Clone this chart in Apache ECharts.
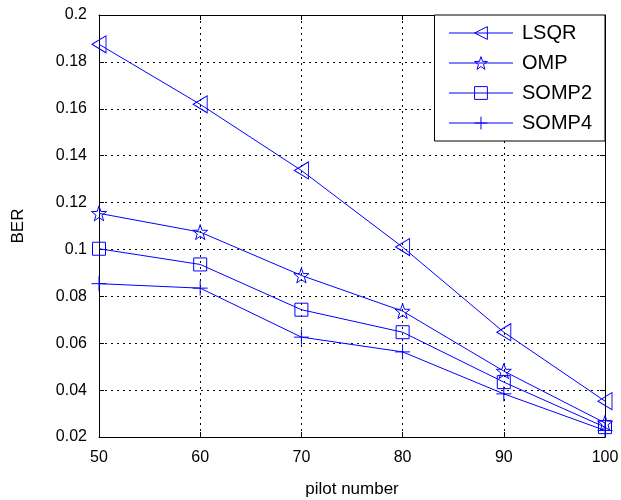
<!DOCTYPE html>
<html>
<head>
<meta charset="utf-8">
<script src="https://cdn.jsdelivr.net/npm/echarts@6/dist/echarts.min.js"></script>
<style>
  html, body { margin: 0; padding: 0; background: #fff; }
  #main { width: 621px; height: 500px; }
</style>
</head>
<body>
<div id="main"></div>
<script>
var pilots = [50, 60, 70, 80, 90, 100];
var lsqr  = [0.1875, 0.1619, 0.1337, 0.1010, 0.0647, 0.0353];
var omp   = [0.1154, 0.1074, 0.0889, 0.0737, 0.0481, 0.0260];
var somp2 = [0.1003, 0.0936, 0.0743, 0.0647, 0.0434, 0.0242];
var somp4 = [0.0854, 0.0835, 0.0626, 0.0563, 0.0384, 0.0228];

var blue = '#0000ff';
var starPath = 'path://M0,-1L0.235,-0.324L0.951,-0.309L0.380,0.124L0.588,0.809L0,0.4L-0.588,0.809L-0.380,0.124L-0.951,-0.309L-0.235,-0.324Z';
var plusPath = 'path://M0,-1L0,1M-1,0L1,0';

function pairs(ys) {
  return pilots.map(function (x, i) { return [x, ys[i]]; });
}

function mk(name, ys, symbol, size, rotate) {
  return {
    name: name,
    type: 'line',
    data: pairs(ys),
    symbol: symbol,
    symbolSize: size,
    symbolRotate: rotate || 0,
    showAllSymbol: true,
    lineStyle: { color: blue, width: 1 },
    itemStyle: { color: 'rgba(0,0,0,0)', borderColor: blue, borderWidth: 1 },
    emphasis: { disabled: true },
    z: 3
  };
}

var chart = echarts.init(document.getElementById('main'));
var font = 'Liberation Sans, Arial, Helvetica, sans-serif';

chart.setOption({
  animation: false,
  textStyle: { fontFamily: font },
  grid: { left: 99, right: 16, top: 15, bottom: 63, outerBoundsMode: 'none', containLabel: false },
  legend: {
    right: 16, top: 15,
    orient: 'vertical',
    backgroundColor: '#fff',
    borderColor: '#000',
    borderWidth: 1,
    padding: [8, 13, 8, 14],
    itemGap: 10,
    itemWidth: 64,
    itemHeight: 16,
    lineStyle: { width: 1 },
    itemStyle: { borderWidth: 1 },
    textStyle: { fontSize: 20, color: '#000', fontFamily: font, padding: [0, 0, 0, 4] },
    data: ['LSQR', 'OMP', 'SOMP2', 'SOMP4']
  },
  xAxis: [{
    type: 'value', min: 50, max: 100, interval: 10,
    name: 'pilot number', nameLocation: 'middle', nameGap: 44,
    nameTextStyle: { fontSize: 17, color: '#000' },
    axisLine: { lineStyle: { color: '#000', width: 1 } },
    axisTick: { inside: true, length: 5, lineStyle: { color: '#000' } },
    axisLabel: { fontSize: 16, color: '#000', margin: 13 },
    splitLine: { show: true, lineStyle: { color: '#000', type: [2, 4], width: 1 } }
  }, {
    type: 'value', min: 50, max: 100, interval: 10, position: 'top',
    axisLine: { show: true, lineStyle: { color: '#000', width: 1 } },
    axisTick: { inside: true, length: 5, lineStyle: { color: '#000' } },
    axisLabel: { show: false },
    splitLine: { show: false }
  }],
  yAxis: [{
    type: 'value', min: 0.02, max: 0.2, interval: 0.02,
    name: 'BER', nameLocation: 'middle', nameGap: 72,
    nameTextStyle: { fontSize: 17, color: '#000' },
    axisLine: { show: true, lineStyle: { color: '#000', width: 1 } },
    axisTick: { show: true, inside: true, length: 5, lineStyle: { color: '#000' } },
    axisLabel: {
      fontSize: 16, color: '#000', margin: 12,
      formatter: function (v) { return String(parseFloat(v.toFixed(2))); }
    },
    splitLine: { show: true, lineStyle: { color: '#000', type: [2, 4], width: 1 } }
  }, {
    type: 'value', min: 0.02, max: 0.2, interval: 0.02, position: 'right',
    axisLine: { show: true, lineStyle: { color: '#000', width: 1 } },
    axisTick: { show: true, inside: true, length: 5, lineStyle: { color: '#000' } },
    axisLabel: { show: false },
    splitLine: { show: false }
  }],
  series: [
    mk('LSQR', lsqr, 'triangle', [17, 14], 90),
    mk('OMP', omp, starPath, 15),
    mk('SOMP2', somp2, 'rect', 13),
    mk('SOMP4', somp4, plusPath, 15)
  ]
});
</script>
</body>
</html>
